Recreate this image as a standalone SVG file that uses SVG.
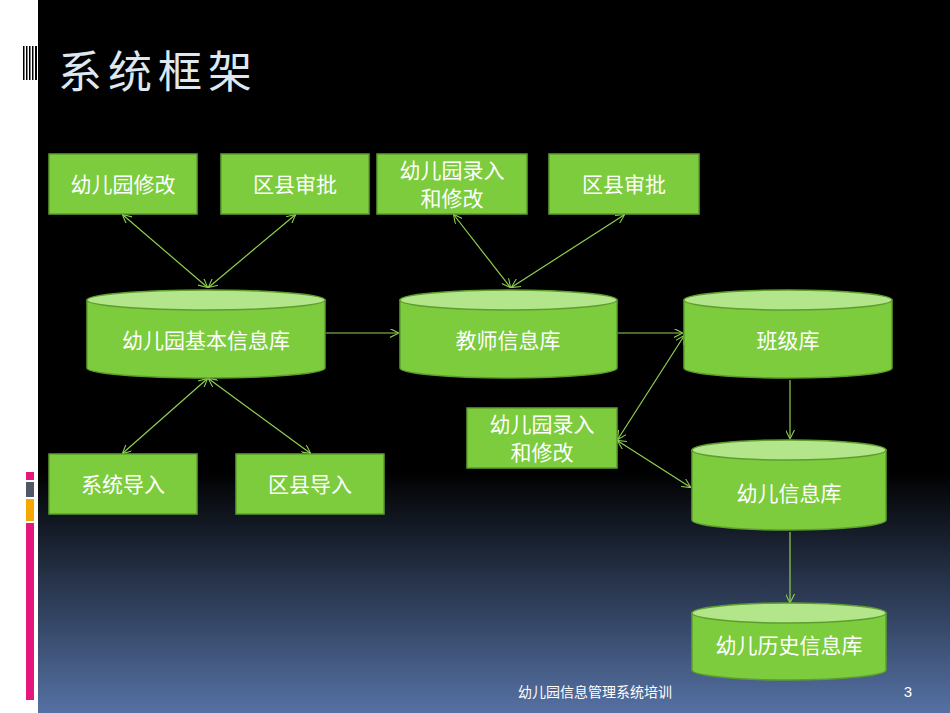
<svg xmlns="http://www.w3.org/2000/svg" width="950" height="713" viewBox="0 0 950 713">
<defs>
<linearGradient id="bg" x1="0" y1="0" x2="0" y2="1">
<stop offset="0" stop-color="#000"/><stop offset="0.66" stop-color="#000"/><stop offset="1" stop-color="#5571a3"/>
</linearGradient>
<marker id="ah" viewBox="0 0 10 10" refX="9" refY="5" markerWidth="9" markerHeight="9" orient="auto-start-reverse" markerUnits="userSpaceOnUse">
<path d="M0,0 L10,5 L0,10" fill="none" stroke="#8fd14f" stroke-width="1.2"/>
</marker>
<style>
.box{fill:#7ccc3e;stroke:#5e9e2e;stroke-width:1.5}
.cyl{fill:#7ccc3e;stroke:#5e9e2e;stroke-width:1.5}
.top{fill:#b3e58b;stroke:#5e9e2e;stroke-width:1.5}
.t{font-family:"Noto Sans CJK SC",sans-serif;font-size:21px;fill:#fff;text-anchor:middle}
.c line{stroke:#8fd14f;stroke-width:1.2;marker-end:url(#ah)}
.c .b{marker-start:url(#ah)}
</style>
</defs>
<rect width="950" height="713" fill="url(#bg)"/>
<rect width="38" height="713" fill="#fff"/>
<g fill="#000">
<rect x="23" y="46" width="1.5" height="34"/><rect x="26" y="46" width="1.5" height="34"/><rect x="29" y="46" width="1.5" height="34"/><rect x="32" y="46" width="1.5" height="34"/><rect x="35" y="46" width="2" height="34"/>
</g>
<rect x="26" y="472" width="8" height="8" fill="#e5177d"/>
<rect x="26" y="482" width="8" height="15" fill="#4e5866"/>
<rect x="26" y="499" width="8" height="22" fill="#f7a800"/>
<rect x="26" y="523" width="8" height="177" fill="#e5177d"/>
<text x="58" y="88" font-family="'Noto Sans CJK SC',sans-serif" font-size="44" fill="#dde8f0" letter-spacing="6">系统框架</text>

<g class="c">
<line class="b" x1="123" y1="215" x2="207" y2="287"/>
<line class="b" x1="295" y1="215" x2="209" y2="287"/>
<line class="b" x1="454" y1="215" x2="510" y2="287"/>
<line class="b" x1="624" y1="215" x2="512" y2="287"/>
<line class="b" x1="123" y1="453" x2="207" y2="379"/>
<line class="b" x1="310" y1="453" x2="209" y2="379"/>
<line x1="326" y1="333" x2="398" y2="333"/>
<line x1="618" y1="333" x2="682" y2="333"/>
<line x1="790" y1="380" x2="790" y2="438"/>
<line x1="790" y1="532" x2="790" y2="602"/>
<line class="b" x1="618" y1="439" x2="684" y2="336"/>
<line class="b" x1="618" y1="441" x2="690" y2="487"/>
</g>

<g id="n1"><rect class="box" x="49" y="154" width="148" height="60"/><text class="t" x="123" y="192">幼儿园修改</text></g>
<g id="n2"><rect class="box" x="221" y="154" width="148" height="60"/><text class="t" x="295" y="192">区县审批</text></g>
<g id="n3"><rect class="box" x="377" y="154" width="150" height="60"/><text class="t" x="452" y="178">幼儿园录入</text><text class="t" x="452" y="206">和修改</text></g>
<g id="n4"><rect class="box" x="549" y="154" width="150" height="60"/><text class="t" x="624" y="192">区县审批</text></g>
<g id="n5"><rect class="box" x="49" y="454" width="148" height="60"/><text class="t" x="123" y="492">系统导入</text></g>
<g id="n6"><rect class="box" x="236" y="454" width="148" height="60"/><text class="t" x="310" y="492">区县导入</text></g>
<g id="n7"><rect class="box" x="467" y="408" width="150" height="60"/><text class="t" x="542" y="432">幼儿园录入</text><text class="t" x="542" y="460">和修改</text></g>

<g id="d1"><path class="cyl" d="M87,300 V368 A119,10 0 0 0 325,368 V300 Z"/><ellipse class="top" cx="206" cy="300" rx="119" ry="10"/><text class="t" x="206" y="348">幼儿园基本信息库</text></g>
<g id="d2"><path class="cyl" d="M400,300 V368 A108.5,10 0 0 0 617,368 V300 Z"/><ellipse class="top" cx="508.5" cy="300" rx="108.5" ry="10"/><text class="t" x="508" y="348">教师信息库</text></g>
<g id="d3"><path class="cyl" d="M684,300 V368 A104,10 0 0 0 892,368 V300 Z"/><ellipse class="top" cx="788" cy="300" rx="104" ry="10"/><text class="t" x="788" y="348">班级库</text></g>
<g id="d4"><path class="cyl" d="M692,450 V520 A97,10 0 0 0 886,520 V450 Z"/><ellipse class="top" cx="789" cy="450" rx="97" ry="10"/><text class="t" x="789" y="501">幼儿信息库</text></g>
<g id="d5"><path class="cyl" d="M692,613 V670 A97,10 0 0 0 886,670 V613 Z"/><ellipse class="top" cx="789" cy="613" rx="97" ry="10"/><text class="t" x="789" y="653">幼儿历史信息库</text></g>

<text x="595" y="697" font-family="'Noto Sans CJK SC',sans-serif" font-size="14" fill="#fff" text-anchor="middle">幼儿园信息管理系统培训</text>
<text x="908" y="697" font-family="'Liberation Sans',sans-serif" font-size="15" fill="#fff" text-anchor="middle">3</text>
</svg>
